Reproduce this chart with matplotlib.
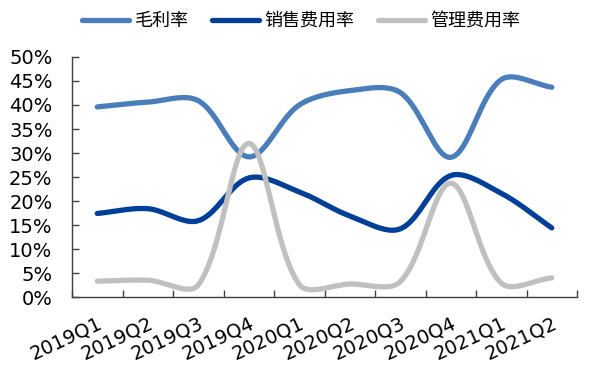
import numpy as np
import matplotlib
matplotlib.use("Agg")
import matplotlib.pyplot as plt
from matplotlib.ticker import FixedLocator, PercentFormatter

quarters = ["2019Q1", "2019Q2", "2019Q3", "2019Q4", "2020Q1",
            "2020Q2", "2020Q3", "2020Q4", "2021Q1", "2021Q2"]
gross_margin = [39.6, 40.6, 40.9, 29.2, 40.0, 43.0, 42.6, 29.1, 45.3, 43.7]
selling_rate = [17.4, 18.4, 15.9, 24.8, 21.9, 16.9, 14.2, 25.3, 21.6, 14.4]
admin_rate = [3.3, 3.5, 2.5, 32.0, 2.6, 2.7, 3.2, 23.7, 2.9, 4.0]

series_names = ["毛利率", "销售费用率", "管理费用率"]
colors = ["#4a7ebb", "#003f98", "#c0c0c0"]

FIG_W, FIG_H = 5.98, 3.67
AX_RECT = [0.1204, 0.1907, 0.8445, 0.654]
Y_MAX = 50


def smooth(y, samples=40):
    """Bezier smoothing through every point, tangents weighted by chord length
    measured in screen units."""
    n = len(y)
    sx = AX_RECT[2] * FIG_W * 100 / n            # pixels per category
    sy = AX_RECT[3] * FIG_H * 100 / Y_MAX        # pixels per percent
    pts = np.column_stack([np.arange(n, dtype=float), np.asarray(y, float)])
    scr = pts * [sx, sy]
    ext = np.vstack([pts[0], pts, pts[-1]])
    ext_scr = np.vstack([scr[0], scr, scr[-1]])

    def dist(a, b):
        return np.hypot(*(ext_scr[a] - ext_scr[b]))

    t = np.linspace(0, 1, samples)[:, None]
    out = []
    for i in range(n - 1):
        p0, p1, p2, p3 = ext[i], ext[i + 1], ext[i + 2], ext[i + 3]
        d01, d12, d23 = dist(i, i + 1), dist(i + 1, i + 2), dist(i + 2, i + 3)
        f1 = d12 / (d01 + d12) / 3.0 if d01 + d12 > 0 else 0.0
        f2 = d12 / (d12 + d23) / 3.0 if d12 + d23 > 0 else 0.0
        c1 = p1 + (p2 - p0) * f1
        c2 = p2 - (p3 - p1) * f2
        seg = ((1 - t) ** 3) * p1 + 3 * ((1 - t) ** 2) * t * c1 \
            + 3 * (1 - t) * t ** 2 * c2 + t ** 3 * p2
        out.append(seg if i == 0 else seg[1:])
    seg = np.vstack(out)
    return seg[:, 0], seg[:, 1]


plt.rcParams['font.family'] = ['DejaVu Sans', 'Noto Sans CJK SC']

fig = plt.figure(figsize=(FIG_W, FIG_H), dpi=100)
ax = fig.add_axes(AX_RECT)

handles = []
for name, vals, col in zip(series_names, [gross_margin, selling_rate, admin_rate], colors):
    xs, ys = smooth(vals)
    ln, = ax.plot(xs, ys, color=col, lw=3.8, solid_capstyle='round', label=name)
    handles.append(ln)

ax.set_xlim(-0.5, len(quarters) - 0.5)
ax.set_ylim(0, Y_MAX)
ax.yaxis.set_major_locator(FixedLocator(np.arange(0, Y_MAX + 1, 5)))
ax.yaxis.set_major_formatter(PercentFormatter(decimals=0))

ax.xaxis.set_major_locator(FixedLocator(np.arange(-0.5, len(quarters), 1.0)))
ax.xaxis.set_major_formatter(plt.NullFormatter())
ax.xaxis.set_minor_locator(FixedLocator(np.arange(len(quarters))))
ax.set_xticklabels(quarters, minor=True)

for side in ("top", "right"):
    ax.spines[side].set_visible(False)
for side in ("left", "bottom"):
    ax.spines[side].set_color("#404040")
    ax.spines[side].set_linewidth(1.0)

ax.tick_params(axis='y', direction='in', length=5, width=1, color="#404040",
               pad=14, labelsize=14, labelcolor="black")
ax.tick_params(axis='x', which='major', direction='in', length=5, width=1,
               color="#404040")
ax.tick_params(axis='x', which='minor', length=0, pad=12, labelsize=14)

for lab in ax.get_xticklabels(minor=True):
    lab.set_rotation(25)
    lab.set_ha('right')
    lab.set_va('top')
    lab.set_rotation_mode('anchor')

fig.legend(handles=handles, loc='center', bbox_to_anchor=(0.504, 0.943), ncol=3,
           frameon=False, prop={'family': ['Noto Sans CJK SC'], 'size': 13},
           handlelength=2.6, handletextpad=0.3, columnspacing=1.3)

fig.savefig("out.png", dpi=100)
